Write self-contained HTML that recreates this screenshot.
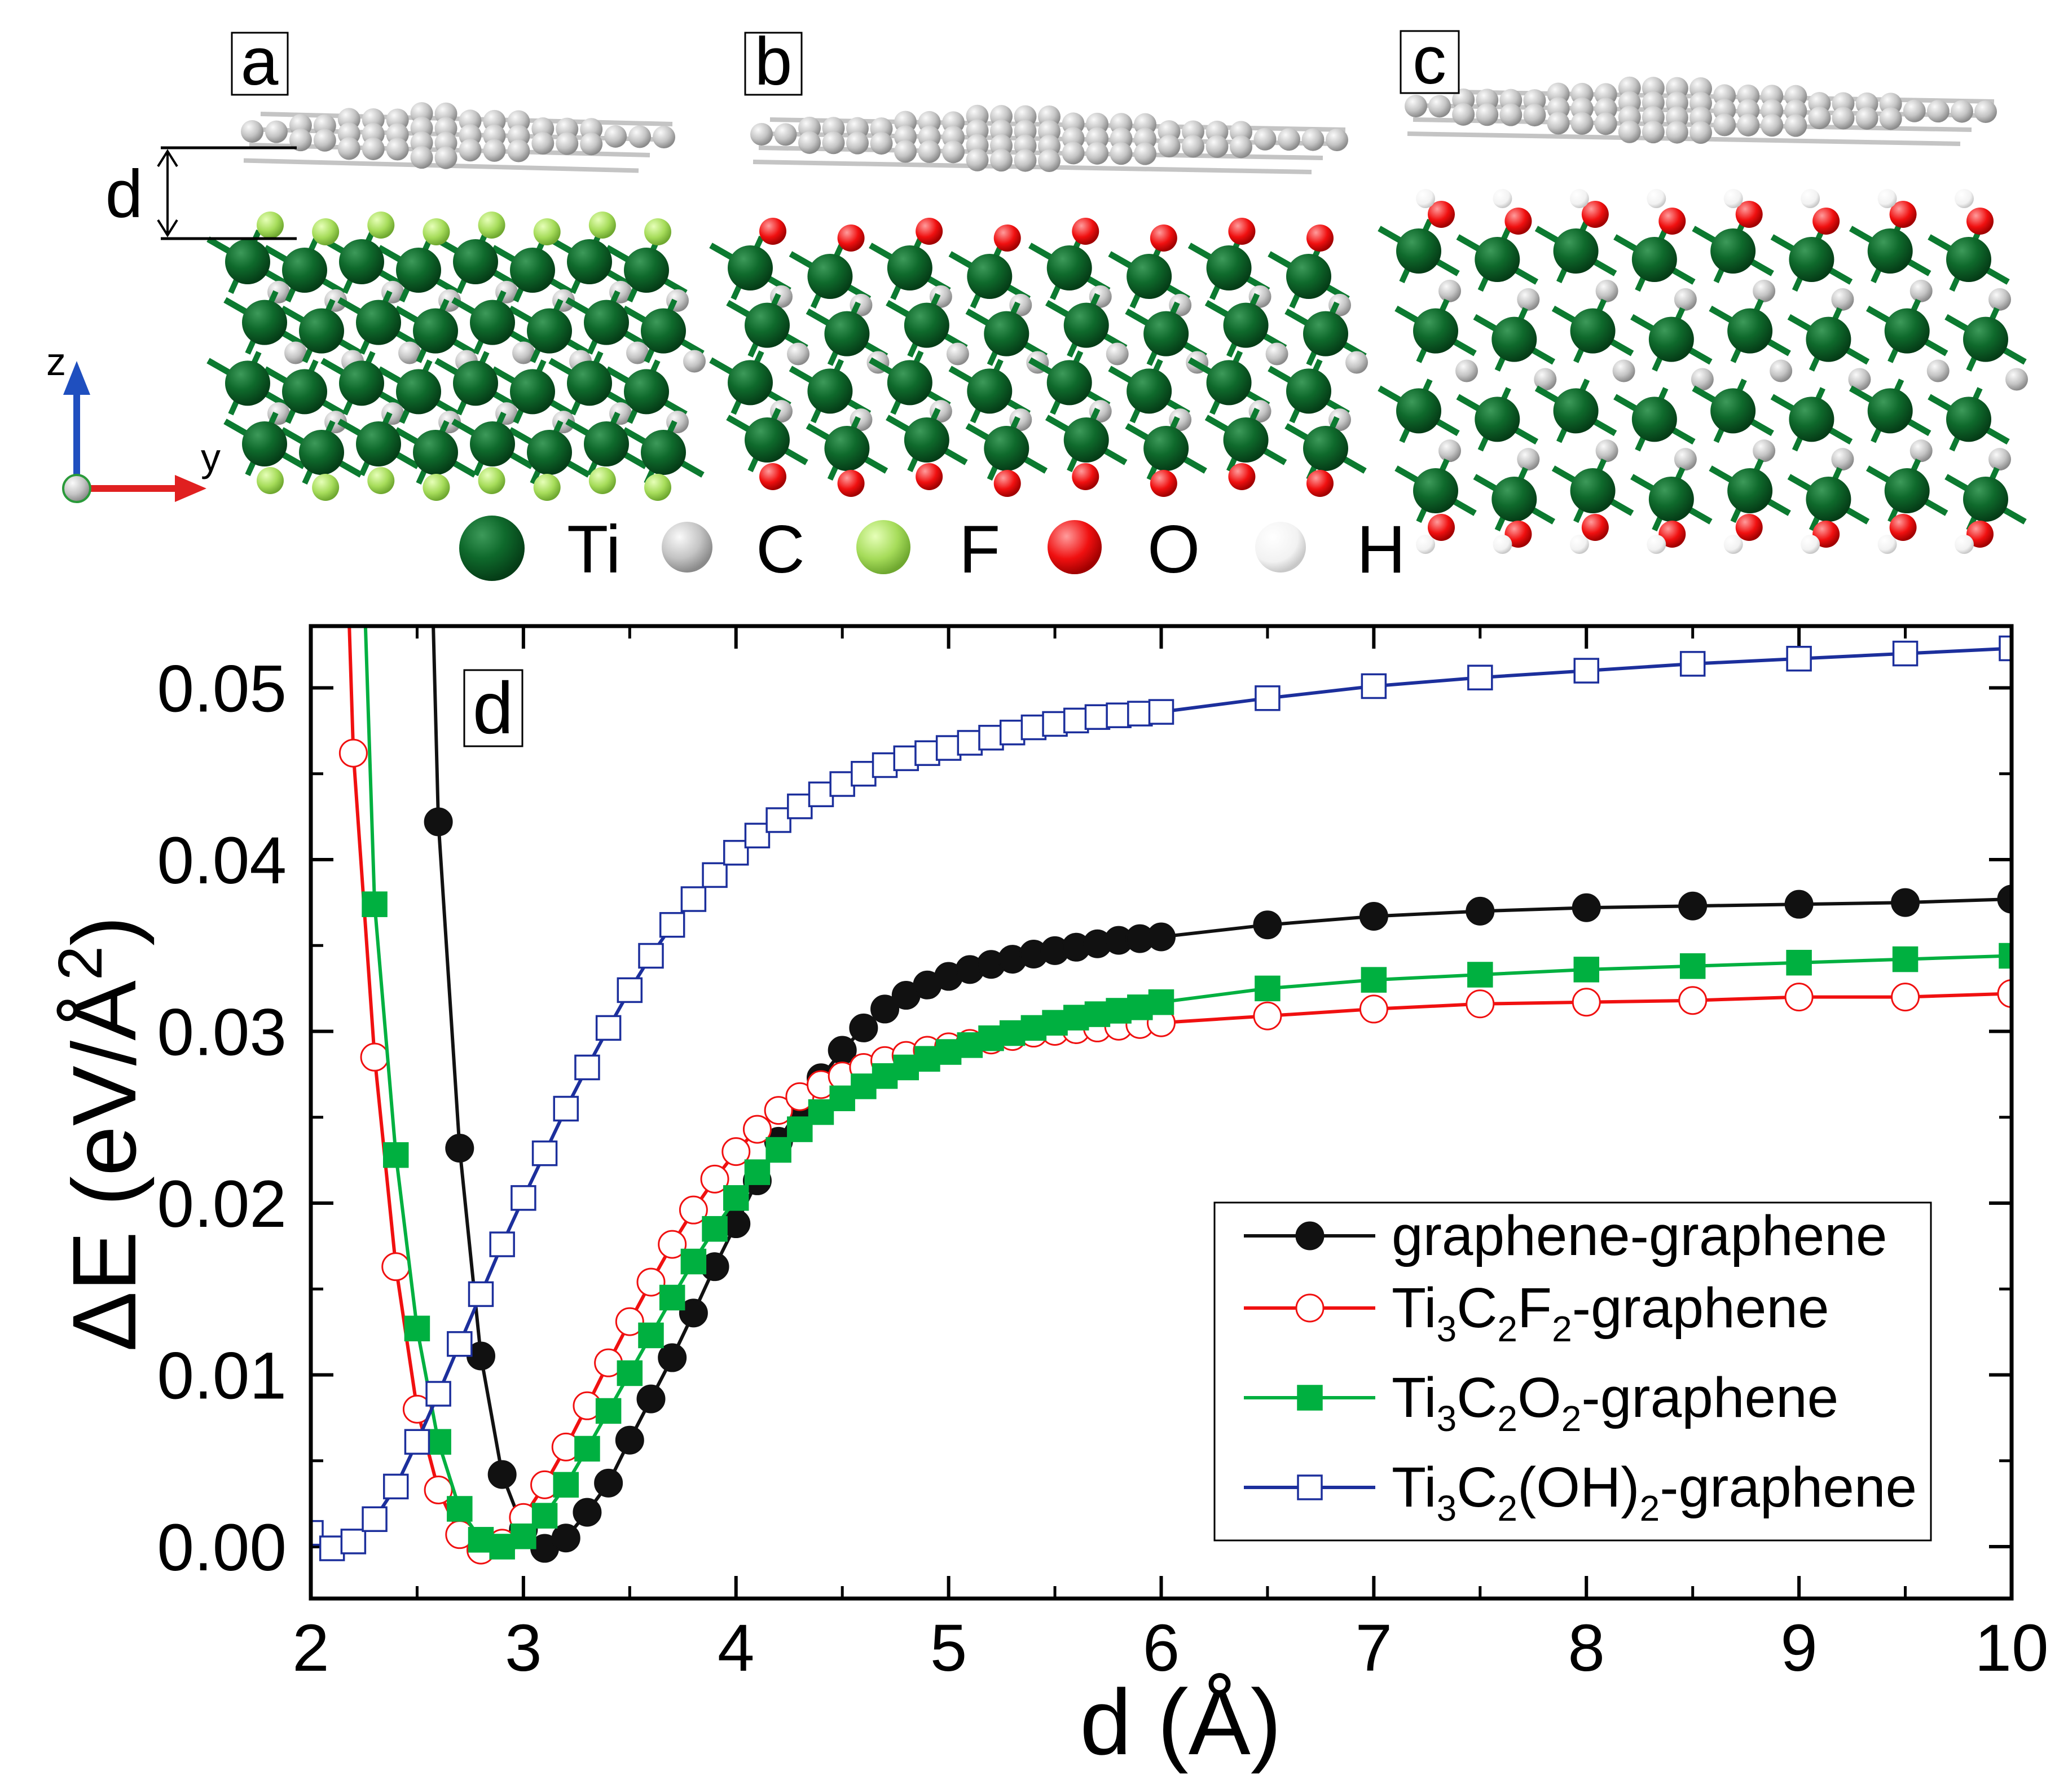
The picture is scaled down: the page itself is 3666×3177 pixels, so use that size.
<!DOCTYPE html>
<html><head><meta charset="utf-8"><style>
html,body{margin:0;padding:0;background:#fff;}
svg{display:block;font-family:"Liberation Sans",sans-serif;}
</style></head><body>
<svg id="fig" width="3666" height="3177" viewBox="0 0 3666 3177" xmlns="http://www.w3.org/2000/svg">
<defs>
<radialGradient id="gTi" cx="35%" cy="30%" r="70%"><stop offset="0" stop-color="#3d9a5a"/><stop offset="0.5" stop-color="#0f6a2c"/><stop offset="1" stop-color="#053d17"/></radialGradient>
<radialGradient id="gC" cx="35%" cy="30%" r="70%"><stop offset="0" stop-color="#fafafa"/><stop offset="0.6" stop-color="#c4c4c4"/><stop offset="1" stop-color="#8a8a8a"/></radialGradient>
<radialGradient id="gF" cx="35%" cy="30%" r="70%"><stop offset="0" stop-color="#e6ffb8"/><stop offset="0.6" stop-color="#a6dc5a"/><stop offset="1" stop-color="#6fa830"/></radialGradient>
<radialGradient id="gO" cx="35%" cy="30%" r="70%"><stop offset="0" stop-color="#ff9c9c"/><stop offset="0.6" stop-color="#f01010"/><stop offset="1" stop-color="#a00000"/></radialGradient>
<radialGradient id="gH" cx="35%" cy="30%" r="70%"><stop offset="0" stop-color="#ffffff"/><stop offset="0.7" stop-color="#f2f2f2"/><stop offset="1" stop-color="#c8c8c8"/></radialGradient>
<clipPath id="plotClip"><rect x="551" y="1110" width="3015" height="1724"/></clipPath>
</defs>
<g id="structures"></g>
<g id="top-labels">
<rect x="411" y="58" width="99" height="110" fill="#fff" stroke="#000" stroke-width="3"/>
<text x="460" y="150" font-size="120" text-anchor="middle">a</text>
<rect x="1321" y="58" width="100" height="110" fill="#fff" stroke="#000" stroke-width="3"/>
<text x="1371" y="150" font-size="120" text-anchor="middle">b</text>
<rect x="2483" y="55" width="103" height="110" fill="#fff" stroke="#000" stroke-width="3"/>
<text x="2534" y="148" font-size="120" text-anchor="middle">c</text>
</g>
<g>
<line x1="285" y1="262" x2="526" y2="262" stroke="#000" stroke-width="5"/>
<line x1="285" y1="423" x2="526" y2="423" stroke="#000" stroke-width="5"/>
<line x1="297" y1="268" x2="297" y2="417" stroke="#000" stroke-width="4"/>
<polyline points="280,295 297,268 314,295" fill="none" stroke="#000" stroke-width="4"/>
<polyline points="280,390 297,417 314,390" fill="none" stroke="#000" stroke-width="4"/>
<text x="220" y="385" font-size="120" text-anchor="middle">d</text>
</g>
<g>
<line x1="136" y1="860" x2="136" y2="690" stroke="#1f4fbf" stroke-width="12"/>
<polygon points="112,700 160,700 136,640" fill="#1f4fbf"/>
<line x1="136" y1="866" x2="320" y2="866" stroke="#e02020" stroke-width="12"/>
<polygon points="310,842 310,890 366,866" fill="#e02020"/>
<circle cx="136" cy="866" r="24" fill="url(#gC)" stroke="#2a9a3a" stroke-width="4"/>
<text x="82" y="665" font-size="70">z</text>
<text x="356" y="835" font-size="70">y</text>
</g>
<g>
<circle cx="872" cy="972" r="58" fill="url(#gTi)"/><text x="1005" y="1015" font-size="120">Ti</text>
<circle cx="1218" cy="970" r="45" fill="url(#gC)"/><text x="1340" y="1015" font-size="120">C</text>
<circle cx="1566" cy="970" r="48" fill="url(#gF)"/><text x="1700" y="1015" font-size="120">F</text>
<circle cx="1905" cy="970" r="48" fill="url(#gO)"/><text x="2034" y="1015" font-size="120">O</text>
<circle cx="2270" cy="970" r="45" fill="url(#gH)"/><text x="2405" y="1015" font-size="120">H</text>
</g>
<g id="chart"></g>
</svg>
<script>
// ---------- chart data ----------
const xTickLabels = ["2","3","4","5","6","7","8","9","10"];
const yTickLabels = ["0.00","0.01","0.02","0.03","0.04","0.05"];
const seriesNames = ["graphene-graphene","Ti3C2F2-graphene","Ti3C2O2-graphene","Ti3C2(OH)2-graphene"];
const ggX = [2.5,2.6,2.7,2.8,2.9,3.0,3.1,3.2,3.3,3.4,3.5,3.6,3.7,3.8,3.9,4.0,4.1,4.2,4.3,4.4,4.5,4.6,4.7,4.8,4.9,5.0,5.1,5.2,5.3,5.4,5.5,5.6,5.7,5.8,5.9,6.0,6.5,7,7.5,8,8.5,9,9.5,10];
const ggY = [0.09,0.0422,0.0232,0.0111,0.0042,0.0010,-0.0001,0.0005,0.0020,0.0037,0.0062,0.0086,0.0110,0.0136,0.0163,0.0188,0.0213,0.0236,0.0256,0.0273,0.0289,0.0302,0.0313,0.0321,0.0327,0.0332,0.0336,0.0339,0.0342,0.0345,0.0347,0.0349,0.0351,0.0353,0.0354,0.0355,0.0362,0.0367,0.0370,0.0372,0.0373,0.0374,0.0375,0.0377];
const fX = [2.1,2.2,2.3,2.4,2.5,2.6,2.7,2.8,2.9,3.0,3.1,3.2,3.3,3.4,3.5,3.6,3.7,3.8,3.9,4.0,4.1,4.2,4.3,4.4,4.5,4.6,4.7,4.8,4.9,5.0,5.1,5.2,5.3,5.4,5.5,5.6,5.7,5.8,5.9,6.0,6.5,7,7.5,8,8.5,9,9.5,10];
const fY = [0.085,0.0462,0.0285,0.0163,0.0080,0.0033,0.0007,-0.0002,0.0002,0.0017,0.0036,0.0058,0.0082,0.0107,0.0131,0.0154,0.0176,0.0196,0.0214,0.0230,0.0243,0.0254,0.0262,0.0269,0.0274,0.0279,0.0283,0.0286,0.0289,0.0291,0.0293,0.0295,0.0297,0.0299,0.0300,0.0301,0.0302,0.0303,0.0304,0.0305,0.0309,0.0313,0.0316,0.0317,0.0318,0.0320,0.0320,0.0322];
const oX = [2.2,2.3,2.4,2.5,2.6,2.7,2.8,2.9,3.0,3.1,3.2,3.3,3.4,3.5,3.6,3.7,3.8,3.9,4.0,4.1,4.2,4.3,4.4,4.5,4.6,4.7,4.8,4.9,5.0,5.1,5.2,5.3,5.4,5.5,5.6,5.7,5.8,5.9,6.0,6.5,7,7.5,8,8.5,9,9.5,10];
const oY = [0.075,0.0374,0.0228,0.0127,0.0061,0.0022,0.0004,0.0000,0.0006,0.0018,0.0036,0.0057,0.0079,0.0101,0.0123,0.0145,0.0166,0.0185,0.0203,0.0218,0.0231,0.0243,0.0253,0.0261,0.0268,0.0274,0.0279,0.0284,0.0288,0.0292,0.0296,0.0299,0.0302,0.0305,0.0308,0.0310,0.0312,0.0314,0.0317,0.0325,0.0330,0.0333,0.0336,0.0338,0.0340,0.0342,0.0344];
const ohX = [2.0,2.1,2.2,2.3,2.4,2.5,2.6,2.7,2.8,2.9,3.0,3.1,3.2,3.3,3.4,3.5,3.6,3.7,3.8,3.9,4.0,4.1,4.2,4.3,4.4,4.5,4.6,4.7,4.8,4.9,5.0,5.1,5.2,5.3,5.4,5.5,5.6,5.7,5.8,5.9,6.0,6.5,7,7.5,8,8.5,9,9.5,10];
const ohY = [0.0008,-0.0001,0.0003,0.0016,0.0035,0.0061,0.0089,0.0118,0.0147,0.0176,0.0203,0.0229,0.0255,0.0279,0.0302,0.0324,0.0344,0.0362,0.0377,0.0391,0.0404,0.0414,0.0423,0.0431,0.0438,0.0444,0.0450,0.0455,0.0459,0.0462,0.0465,0.0468,0.0471,0.0474,0.0477,0.0479,0.0481,0.0483,0.0484,0.0485,0.0486,0.0494,0.0501,0.0506,0.0510,0.0514,0.0517,0.0520,0.0523];

const NS = "http://www.w3.org/2000/svg";
const L = 551, R = 3566, T = 1110, B = 2834;
const xS = v => L + (v - 2) / 8 * (R - L);
const Y0 = 2742, YP = 30450; // px per unit
const yS = v => Y0 - v * YP;
function mk(tag, attrs, parent) {
  const e = document.createElementNS(NS, tag);
  for (const k in attrs) e.setAttribute(k, attrs[k]);
  parent.appendChild(e);
  return e;
}
const chart = document.getElementById("chart");

// ticks
const tickG = mk("g", {}, chart);


for (let i = 0; i < xTickLabels.length; i++) {
  const v = parseFloat(xTickLabels[i]), x = xS(v);
  mk("line", {x1:x, y1:B, x2:x, y2:B-40, stroke:"#000","stroke-width":6}, tickG);
  mk("line", {x1:x, y1:T, x2:x, y2:T+40, stroke:"#000","stroke-width":6}, tickG);
  if (v < 10) {
    const xm = xS(v + 0.5);
    mk("line", {x1:xm, y1:B, x2:xm, y2:B-22, stroke:"#000","stroke-width":5}, tickG);
    mk("line", {x1:xm, y1:T, x2:xm, y2:T+22, stroke:"#000","stroke-width":5}, tickG);
  }
  const t = mk("text", {x:x, y:2962, "font-size":118, "text-anchor":"middle"}, tickG);
  
  
  t.textContent = xTickLabels[i];
}
for (let i = 0; i < yTickLabels.length; i++) {
  const v = parseFloat(yTickLabels[i]), y = yS(v);
  mk("line", {x1:L, y1:y, x2:L+40, y2:y, stroke:"#000","stroke-width":6}, tickG);
  mk("line", {x1:R, y1:y, x2:R-40, y2:y, stroke:"#000","stroke-width":6}, tickG);
  for (const m of [v - 0.005, v + 0.005]) {
    const ym = yS(m);
    if (ym > T && ym < B && !(i > 0 && m < v)) {
      mk("line", {x1:L, y1:ym, x2:L+22, y2:ym, stroke:"#000","stroke-width":5}, tickG);
      mk("line", {x1:R, y1:ym, x2:R-22, y2:ym, stroke:"#000","stroke-width":5}, tickG);
    }
  }
  const t = mk("text", {x:508, y:y+42, "font-size":118, "text-anchor":"end"}, tickG);
  
  
  t.textContent = yTickLabels[i];
}
{
  const ym = yS(-0.005);
  if (ym < B) { mk("line", {x1:L, y1:ym, x2:L+22, y2:ym, stroke:"#000","stroke-width":5}, tickG); mk("line", {x1:R, y1:ym, x2:R-22, y2:ym, stroke:"#000","stroke-width":5}, tickG); }
}

// series
const defs = [
  {x:ggX, y:ggY, color:"#111", marker:"circle", fill:"#111", name:"series-graphene-graphene"},
  {x:fX, y:fY, color:"#f01010", marker:"circle", fill:"#fff", name:"series-ti3c2f2-graphene"},
  {x:oX, y:oY, color:"#00b040", marker:"square", fill:"#00b040", name:"series-ti3c2o2-graphene"},
  {x:ohX, y:ohY, color:"#1c2f9c", marker:"square", fill:"#fff", name:"series-ti3c2oh2-graphene"}
];
const plotG = mk("g", {"clip-path":"url(#plotClip)"}, chart);


function marker(g, d, x, y) {
  let m;
  if (d.marker === "circle") m = mk("circle", {cx:x, cy:y, r:24, fill:d.fill, stroke:d.color, "stroke-width":3}, g);
  else m = mk("rect", {x:x-21, y:y-21, width:42, height:42, fill:d.fill, stroke:d.color, "stroke-width":3.5}, g);
  return m;
}
for (const d of defs) {
  const g = mk("g", {}, plotG);
  
  
  const pts = d.x.map((v, i) => xS(v).toFixed(1) + "," + yS(d.y[i]).toFixed(1)).join(" ");
  const ln = mk("polyline", {points:pts, fill:"none", stroke:d.color, "stroke-width":6, "stroke-linejoin":"round"}, g);
  
  
  for (let i = 0; i < d.x.length; i++) {
    const m = marker(g, d, xS(d.x[i]), yS(d.y[i]));
    
    
  }
}
const frame = mk("rect", {x:L, y:T, width:R-L, height:B-T, fill:"none", stroke:"#000", "stroke-width":7}, chart);


const dbox = mk("rect", {x:823, y:1188, width:103, height:135, fill:"#fff", stroke:"#000", "stroke-width":3}, chart);


const dl = mk("text", {x:874, y:1300, "font-size":130, "text-anchor":"middle"}, chart);


dl.textContent = "d";

const xt = mk("text", {x:2093, y:3110, "font-size":165, "text-anchor":"middle"}, chart);


xt.textContent = "d (Å)";
const yt = mk("text", {x:0, y:0, "font-size":160, "text-anchor":"middle", transform:"translate(240,2010) rotate(-90)"}, chart);


yt.innerHTML = 'ΔE (eV/Å<tspan dy="-60" font-size="110">2</tspan><tspan dy="60">)</tspan>';

const lg = mk("g", {}, chart);


mk("rect", {x:2153, y:2132, width:1270, height:599, fill:"#fff", stroke:"#000", "stroke-width":3}, lg);
const legY = [2191, 2319, 2478, 2637];
const legHTML = [
  'graphene-graphene',
  'Ti<tspan dy="25" font-size="64">3</tspan><tspan dy="-25">C</tspan><tspan dy="25" font-size="64">2</tspan><tspan dy="-25">F</tspan><tspan dy="25" font-size="64">2</tspan><tspan dy="-25">-graphene</tspan>',
  'Ti<tspan dy="25" font-size="64">3</tspan><tspan dy="-25">C</tspan><tspan dy="25" font-size="64">2</tspan><tspan dy="-25">O</tspan><tspan dy="25" font-size="64">2</tspan><tspan dy="-25">-graphene</tspan>',
  'Ti<tspan dy="25" font-size="64">3</tspan><tspan dy="-25">C</tspan><tspan dy="25" font-size="64">2</tspan><tspan dy="-25">(OH)</tspan><tspan dy="25" font-size="64">2</tspan><tspan dy="-25">-graphene</tspan>'
];
for (let i = 0; i < 4; i++) {
  const d = defs[i], y = legY[i];
  const e = mk("g", {}, lg);
  
  
  mk("line", {x1:2205, y1:y, x2:2438, y2:y, stroke:d.color, "stroke-width":6}, e);
  marker(e, d, 2322, y);
  const t = mk("text", {x:2467, y:y+34, "font-size":100}, e);
  t.innerHTML = legHTML[i];
}

// ---------- structures (decorative) ----------
const st = document.getElementById("structures");
function sphere(g, x, y, r, grad) { mk("circle", {cx:x, cy:y, r:r, fill:"url(#"+grad+")"}, g); }
function graphene(x0, y0, w, h) {
  const g = mk("g", {}, st);
  
  
  for (let r = 0; r < 4; r++) {
    const y = y0 + r * h / 4 + 12;
    mk("line", {x1:x0 + (3 - r) * 10, y1:y, x2:x0 + w - r * 20, y2:y + 18, stroke:"#c4c4c4", "stroke-width":8}, g);
  }
  const n = Math.round(w / 42);
  for (let i = 0; i < n; i++) {
    const fx = i / (n - 1);
    const k = 1 - Math.abs(fx - 0.45) * 1.6;
    const rows = Math.max(1, Math.round(k * 4));
    for (let r = 0; r < rows; r++) {
      const x = x0 + 15 + fx * (w - 30);
      const y = y0 + h / 2 - rows * 12 + r * 26 + fx * 10;
      sphere(g, x, y, 20, "gC");
    }
  }
}
function block(x0, y0, w, h, surf) {
  const g = mk("g", {}, st);
  
  
  const cols = 8, rows = 4;
  for (let r = 0; r < rows; r++) {
    for (let c = 0; c < cols; c++) {
      const x = x0 + 50 + c * (w - 100) / (cols - 1) + (r % 2) * 30 - 20;
      const y = y0 + 90 + r * (h - 180) / (rows - 1) + (c % 2) * 15;
      mk("line", {x1:x-70, y1:y-40, x2:x+70, y2:y+40, stroke:"#0c7a30", "stroke-width":11}, g);
      mk("line", {x1:x-30, y1:y+55, x2:x+20, y2:y-55, stroke:"#0c7a30", "stroke-width":10}, g);
      if (r < rows - 1) sphere(g, x + 55, y + (h - 180) / (rows - 1) / 2, 20, "gC");
    }
  }
  for (let r = 0; r < rows; r++) {
    for (let c = 0; c < cols; c++) {
      const x = x0 + 50 + c * (w - 100) / (cols - 1) + (r % 2) * 30 - 20;
      const y = y0 + 90 + r * (h - 180) / (rows - 1) + (c % 2) * 15;
      sphere(g, x, y, 40, "gTi");
    }
  }
  for (let c = 0; c < cols; c++) {
    const x = x0 + 70 + c * (w - 120) / (cols - 1);
    for (const yy of [y0 + 25, y0 + h - 25]) {
      if (surf === "F") sphere(g, x, yy + (c % 2) * 12, 24, "gF");
      else if (surf === "O") sphere(g, x, yy + (c % 2) * 12, 24, "gO");
      else {
        sphere(g, x, yy + (c % 2) * 12, 24, "gO");
        sphere(g, x - 28, yy + (yy < y0 + h / 2 ? -28 : 30), 17, "gH");
      }
    }
  }
}
graphene(432, 190, 760, 110);
graphene(1335, 200, 1050, 100);
graphene(2495, 150, 1040, 100);
block(409, 374, 807, 503, "F");
block(1300, 385, 1090, 485, "O");
block(2485, 355, 1075, 605, "OH");
</script>
</body></html>
